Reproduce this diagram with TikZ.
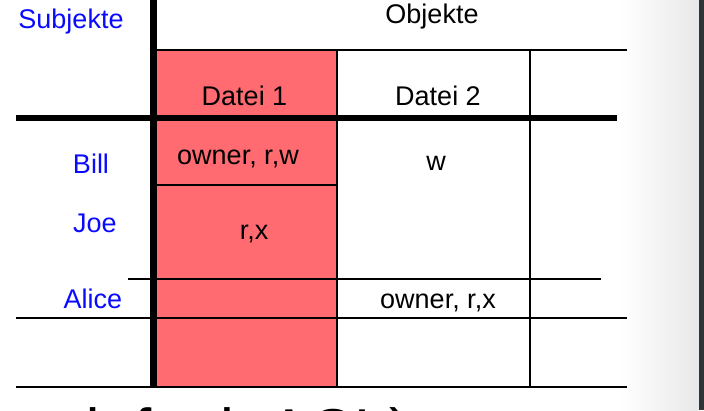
\documentclass[tikz,border=0pt]{standalone}
\usepackage{fontspec}
\setmainfont{Liberation Sans}
\usepackage{tikz}
\usetikzlibrary{positioning}

\definecolor{dateired}{RGB}{255,107,112}
\definecolor{subjblue}{RGB}{10,10,255}
\definecolor{framedark}{RGB}{48,51,54}
\newcommand{\cellfont}{\fontsize{27}{31}\selectfont}
\newcommand{\footfont}{\fontsize{62}{70}\selectfont}

\tikzset{
  cell/.style={font=\cellfont,anchor=base,inner sep=0pt},
  subj/.style={cell,text=subjblue},
  rule/.style={line width=2pt},
  boldrule/.style={line width=6pt}
}

\begin{document}
\begin{tikzpicture}[x=1pt,y=-1pt]
\useasboundingbox (0,0) rectangle (704,410);
\fill[white] (0,0) rectangle (704,410);
\shade[left color=white,right color=black!9] (620,0) rectangle (699,410);
\fill[framedark] (699,0) rectangle (704,410);

\fill[dateired] (157,50) rectangle (337,387);
\draw[rule] (157,50) -- (627,50);
\draw[rule] (337,50) -- (337,387);
\draw[rule] (530,50) -- (530,387);
\draw[rule] (157,185) -- (337,185);
\draw[rule] (128,279) -- (601,279);
\draw[rule] (16,318) -- (627,318);
\draw[rule] (16,387) -- (627,387);
\draw[boldrule] (16,118) -- (617,118);
\draw[line width=7pt] (153.5,0) -- (153.5,388);

\node[subj] (subj) at (71,28) {Subjekte};
\node[cell] (obj) at (432,23) {Objekte};
\node[cell] (dateiA) at (244.5,105) {Datei 1};
\node[cell] (dateiB) at (438,105) {Datei 2};

\node[subj] (bill) at (91,173) {Bill};
\node[subj] (joe) at (95,232) {Joe};
\node[subj] (alice) at (93,308) {Alice};

\node[cell] (billA) at (238,164) {owner, r,w};
\node[cell] (billB) at (436,170) {w};
\node[cell] (joeA) at (254,239) {r,x};
\node[cell] (aliceB) at (438,308) {owner, r,x};

\begin{scope}
\clip (0,0) rectangle (704,410);
\node[font=\footfont,anchor=base east,inner sep=0pt] (foot) at (410,452) {default ACL)};
\end{scope}

\end{tikzpicture}
\end{document}
